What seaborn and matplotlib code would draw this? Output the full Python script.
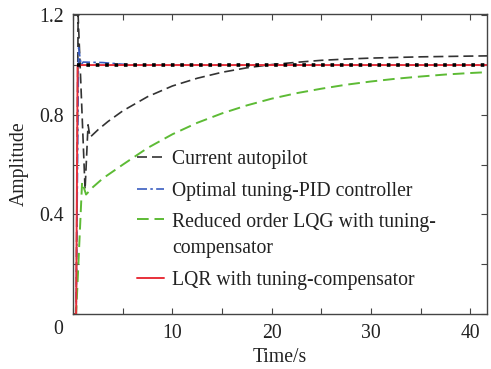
import matplotlib
matplotlib.use("Agg")
import matplotlib.pyplot as plt
import seaborn as sns
import pandas as pd
import numpy as np

# ---- data ----
t_current = [0.0, 0.3, 0.5, 1.2, 1.5, 1.7, 2.5, 3.5, 5, 7.5, 10, 12.5, 15, 17.5, 20, 22.5, 25, 27.5, 30, 35, 40, 42]
y_current = [0.0, 0.0, 1.2, 0.5, 0.76, 0.71, 0.740, 0.773, 0.816, 0.873, 0.916, 0.947, 0.971, 0.989, 1.002, 1.011, 1.019, 1.024, 1.028, 1.033, 1.036, 1.037]

t_pid = [0.0, 0.3, 0.55, 0.8, 1.0, 3.0, 6.0, 42]
y_pid = [0.0, 0.0, 1.07, 1.0, 1.012, 1.01, 1.0, 1.0]

t_lqg = [0.0, 0.3, 0.9, 1.3, 2.0, 3.0, 5, 7.5, 10, 12.5, 15, 17.5, 20, 22.5, 25, 27.5, 30, 32.5, 35, 37.5, 40, 42]
y_lqg = [0.0, 0.0, 0.53, 0.48, 0.51, 0.545, 0.60, 0.667, 0.722, 0.768, 0.806, 0.838, 0.865, 0.887, 0.905, 0.921, 0.934, 0.945, 0.954, 0.962, 0.968, 0.972]

t_lqr = [0.0, 0.3, 0.45, 42]
y_lqr = [0.0, 0.0, 1.0, 1.0]

t_ref = [0.4, 42]
y_ref = [1.0, 1.0]

labels = ["Current autopilot",
          "Optimal tuning-PID controller",
          "Reduced order LQG with tuning-\ncompensator",
          "LQR with tuning-compensator"]

x_major = [0, 10, 20, 30, 40]
x_minor = [5, 15, 25, 35]
y_major = [0.4, 0.8, 1.2]
y_minor = [0.0, 0.2, 0.6, 1.0]

sns.set_style("ticks")
plt.rcParams['font.family'] = ['Liberation Serif', 'DejaVu Serif']
plt.rcParams['mathtext.fontset'] = 'stix'

FS = 14.2

fig = plt.figure(figsize=(4.91, 3.69), dpi=100)
ax = fig.add_axes([0.149, 0.149, 0.843, 0.813])

df_cur = pd.DataFrame({"t": t_current, "y": y_current})
df_pid = pd.DataFrame({"t": t_pid, "y": y_pid})
df_lqg = pd.DataFrame({"t": t_lqg, "y": y_lqg})
df_lqr = pd.DataFrame({"t": t_lqr, "y": y_lqr})
df_ref = pd.DataFrame({"t": t_ref, "y": y_ref})

sns.lineplot(data=df_cur, x="t", y="y", ax=ax, color="#333333", lw=1.2, label=labels[0], sort=False)
ax.lines[-1].set_dashes([6, 3])
sns.lineplot(data=df_pid, x="t", y="y", ax=ax, color="#3a5ec0", lw=1.2, label=labels[1], sort=False)
ax.lines[-1].set_dashes([6, 2, 1.5, 2])
sns.lineplot(data=df_lqg, x="t", y="y", ax=ax, color="#5dbb35", lw=1.4, label=labels[2], sort=False)
ax.lines[-1].set_dashes([6, 3])
sns.lineplot(data=df_lqr, x="t", y="y", ax=ax, color="#e8303a", lw=1.4, label=labels[3], sort=False)
sns.lineplot(data=df_ref, x="t", y="y", ax=ax, color="black", lw=2.6, sort=False)
ax.lines[-1].set_dashes([1, 1.6])

ax.set_xlim(0, 41.7)
ax.set_ylim(0, 1.205)
ax.set_xticks(x_major)
ax.set_xticks(x_minor, minor=True)
ax.set_xticklabels(["", "10", "20", "30", "40"])
ax.set_yticks(y_major)
ax.set_yticks(y_minor, minor=True)
ax.set_yticklabels(["0.4", "0.8", "1.2"])
ax.tick_params(which="both", direction="in", top=True, right=True, length=4,
               width=0.8, color="#444444", labelsize=FS, pad=7, labelcolor="#222222")
ax.text(-0.036, -0.053, "0", transform=ax.transAxes, ha="center", va="center",
        fontsize=FS, color="#222222")
for s in ax.spines.values():
    s.set_color("#444444")
    s.set_linewidth(1.0)
ax.set_xlabel("Time/s", fontsize=FS, labelpad=4, color="#222222")
ax.set_ylabel("Amplitude", fontsize=FS, labelpad=7, color="#222222")

leg = ax.legend(loc="upper left", bbox_to_anchor=(0.135, 0.572), frameon=False,
                fontsize=FS, handlelength=1.35, handletextpad=0.45, labelspacing=0.62,
                borderaxespad=0)
for txt in leg.get_texts():
    txt.set_color("#222222")
    txt.set_linespacing(1.55)
# align the two-line entry's handle with its first line, as in the reference
g = leg.get_lines()[2]
yd = np.asarray(g.get_ydata(), dtype=float)
g.set_ydata(yd + 12.0)

fig.savefig("out.png", dpi=100)
